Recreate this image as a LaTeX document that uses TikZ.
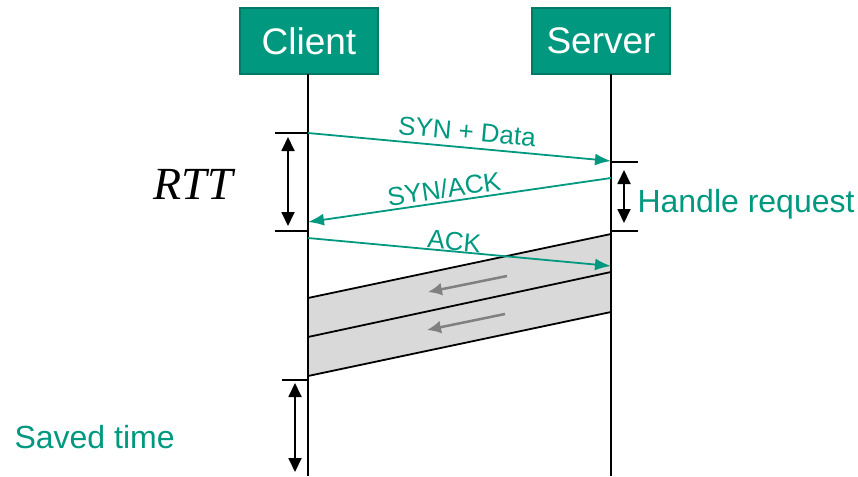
\documentclass[tikz,border=0pt]{standalone}
\usepackage{fontspec}
\setmainfont{Liberation Sans}
\newfontfamily\rttfont{Liberation Serif}
\usetikzlibrary{arrows.meta}
\definecolor{tealfill}{RGB}{0,153,128}
\definecolor{tealedge}{RGB}{0,122,102}
\definecolor{bandgray}{RGB}{217,217,217}
\tikzstyle{host} = [rectangle, minimum width=138pt, minimum height=66pt, text centered, draw=tealedge, line width=1.5pt, fill=tealfill, text=white, font=\fontsize{37}{40}\selectfont]
\tikzstyle{lifeline} = [line width=1.8pt, black]
\tikzstyle{msg} = [line width=1.8pt, tealfill, -{Latex[length=16pt,width=12pt]}]
\tikzstyle{msglabel} = [sloped, inner sep=1pt, text=tealfill, font=\fontsize{26}{28}\selectfont]
\tikzstyle{span} = [line width=1.8pt, {Triangle[length=14pt,width=13pt]}-{Triangle[length=14pt,width=13pt]}]
\tikzstyle{tick} = [line width=1.8pt]
\tikzstyle{flow} = [line width=2.5pt, gray, -{Latex[length=14pt,width=13pt]}]
\tikzstyle{note} = [text=tealfill, font=\fontsize{32}{34}\selectfont, anchor=west]

\begin{document}
\begin{tikzpicture}[x=1pt, y=-1pt, node distance=292pt]
	\useasboundingbox (0,0) rectangle (858,476);
	\node (client) [host] at (309,41) {Client};
	\node (server) [host, right of=client] {Server};
	\coordinate (ctop) at (308,74);
	\coordinate (cbot) at (308,476);
	\coordinate (stop) at (611,74);
	\coordinate (sbot) at (611,476);
	% data band
	\fill[bandgray] (308,298) -- (611,234) -- (611,312) -- (308,376) -- cycle;
	\draw[tick] (308,298) -- (611,234);
	\draw[tick] (308,337) -- (611,272);
	\draw[tick] (308,376) -- (611,312);
	\draw[lifeline] (ctop) -- (cbot);
	\draw[lifeline] (stop) -- (sbot);
	% handshake
	\coordinate (syn0) at (308,133);
	\coordinate (syn1) at (611,161);
	\coordinate (sa0) at (611,178);
	\coordinate (sa1) at (308,222);
	\coordinate (ack0) at (308,238);
	\coordinate (ack1) at (611,266);
	\draw[msg] (syn0) -- node[msglabel, above=5pt, pos=0.52] {SYN + Data} (syn1);
	\draw[msg] (sa0) -- node[msglabel, above=2pt, pos=0.545] {SYN/ACK} (sa1);
	\draw[msg] (ack0) -- node[msglabel, above=-1pt, pos=0.48] {ACK} (ack1);
	\draw[flow] (507,276) -- (428,292);
	\draw[flow] (505,314) -- (427,330);
	% RTT
	\draw[tick] (275,133) -- (308,133);
	\draw[tick] (275,231) -- (308,231);
	\draw[span] (288,137) -- (288,226);
	\node (rtt) [font=\fontsize{46}{48}\selectfont\rttfont\itshape] at (193,184) {RTT};
	% server time
	\draw[tick] (611,162) -- (638,162);
	\draw[tick] (611,231) -- (638,231);
	\draw[span] (624,170) -- (624,223);
	\node (handle) [note] at (634,204) {Handle request};
	% saved time
	\draw[tick] (282,380) -- (308,380);
	\draw[span] (295,383) -- (295,472);
	\node (saved) [note] at (11,437) {Saved time};
\end{tikzpicture}
\end{document}
